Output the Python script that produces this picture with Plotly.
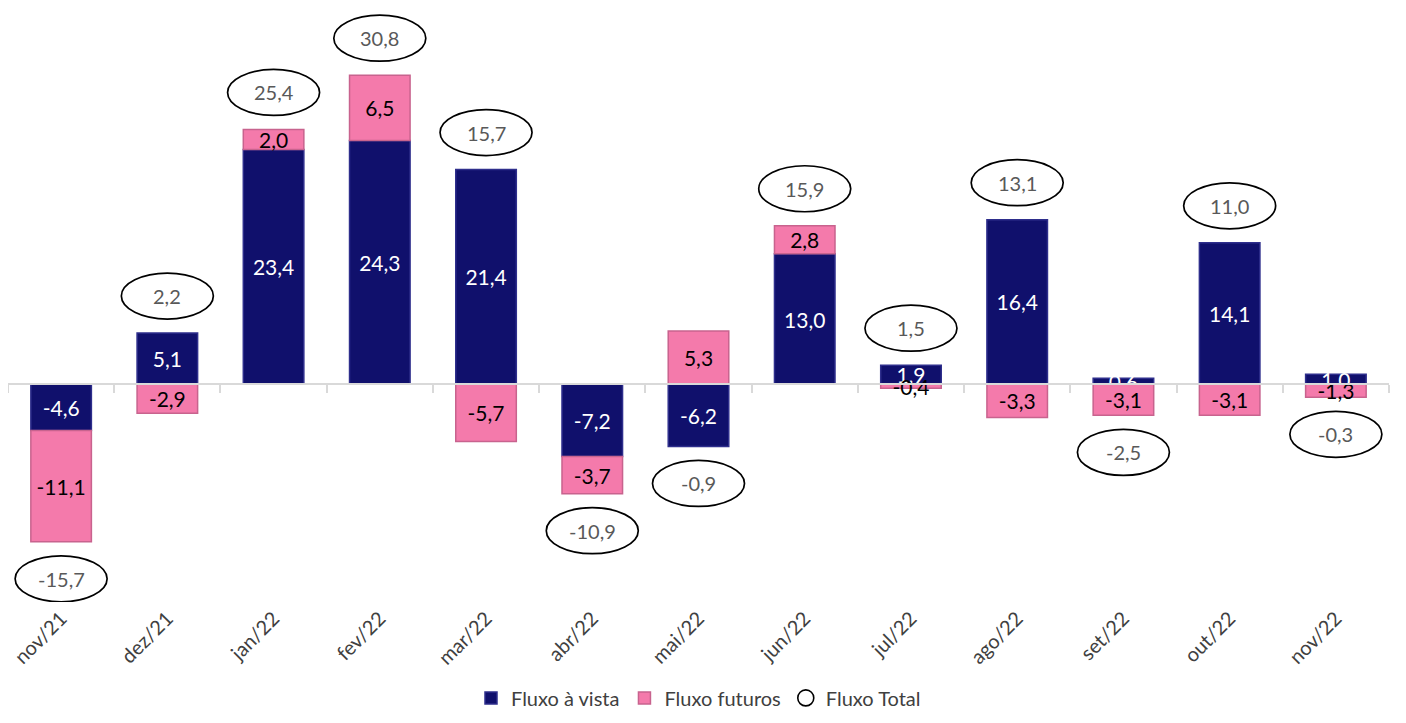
import plotly.graph_objects as go

months = ["nov/21", "dez/21", "jan/22", "fev/22", "mar/22", "abr/22", "mai/22",
          "jun/22", "jul/22", "ago/22", "set/22", "out/22", "nov/22"]
fluxo_vista = [-4.6, 5.1, 23.4, 24.3, 21.4, -7.2, -6.2, 13.0, 1.9, 16.4, 0.6, 14.1, 1.0]
fluxo_futuros = [-11.1, -2.9, 2.0, 6.5, -5.7, -3.7, 5.3, 2.8, -0.4, -3.3, -3.1, -3.1, -1.3]
fluxo_total = [-15.7, 2.2, 25.4, 30.8, 15.7, -10.9, -0.9, 15.9, 1.5, 13.1, -2.5, 11.0, -0.3]

NAVY = "#10106C"
PINK = "#F47AAB"
FONT = "Lato"

YMIN, YMAX = -21.7, 37.3

fig = go.Figure()
fig.add_trace(go.Bar(
    x=months, y=fluxo_vista, name="Fluxo à vista",
    marker=dict(color=NAVY, line=dict(color="#2E2E8C", width=1.5)),
    texttemplate="%{y:.1f}", textposition="inside", insidetextanchor="middle",
    textfont=dict(color="white", size=21, family=FONT), cliponaxis=False,
))
fig.add_trace(go.Bar(
    x=months, y=fluxo_futuros, name="Fluxo futuros",
    marker=dict(color=PINK, line=dict(color="#C8638E", width=1.5)),
    texttemplate="%{y:.1f}", textposition="inside", insidetextanchor="middle",
    textfont=dict(color="black", size=21, family=FONT), cliponaxis=False,
))
# legend-only entry for the total ellipses
fig.add_trace(go.Scatter(
    x=[None], y=[None], mode="markers", name="Fluxo Total",
    marker=dict(symbol="circle-open", size=24, color="black", line=dict(width=1.6)),
))
# dummy trace so the zero-line axis gets its categories
fig.add_trace(go.Scatter(
    x=months, y=[0] * len(months), mode="markers", marker=dict(opacity=0),
    xaxis="x2", yaxis="y", showlegend=False, hoverinfo="skip",
))

shapes = []
annotations = []
OFF = 37
for i, (v, f, t) in enumerate(zip(fluxo_vista, fluxo_futuros, fluxo_total)):
    pos = sum(a for a in (v, f) if a > 0)
    neg = sum(a for a in (v, f) if a < 0)
    if t >= 0:
        edge, off = pos, OFF
    else:
        edge, off = neg, -OFF
    shapes.append(dict(
        type="circle", xref="x", yref="y",
        xsizemode="pixel", ysizemode="pixel",
        xanchor=i, yanchor=edge,
        x0=-46, x1=46, y0=off - 23, y1=off + 23,
        line=dict(color="black", width=1.7), fillcolor="white", layer="above",
    ))
    annotations.append(dict(
        x=i, y=edge, xref="x", yref="y", yshift=off,
        text=f"{t:.1f}".replace(".", ","), showarrow=False,
        font=dict(color="#595959", size=20, family=FONT),
    ))

pos_frac = (0 - YMIN) / (YMAX - YMIN)

fig.update_layout(
    width=1390, height=707,
    barmode="relative", bargap=0.43,
    separators=",.",
    plot_bgcolor="white", paper_bgcolor="white",
    margin=dict(l=0, r=9, t=2, b=113, autoexpand=False),
    font=dict(family=FONT, size=20, color="#404040"),
    uniformtext=dict(minsize=21, mode="show"),
    xaxis=dict(
        type="category", categoryorder="array", categoryarray=months,
        tickangle=-45, showline=False, ticks="", showgrid=False, automargin=False,
        tickfont=dict(size=20, color="#404040", family=FONT),
        range=[-0.5, len(months) - 0.5],
    ),
    xaxis2=dict(
        type="category", categoryorder="array", categoryarray=months,
        overlaying="x", anchor="free", position=pos_frac, side="bottom",
        showline=True, linecolor="#D9D9D9", linewidth=2,
        ticks="outside", ticklen=8, tickcolor="#D9D9D9", tickwidth=2,
        tickson="boundaries", showticklabels=False, showgrid=False,
        range=[-0.5, len(months) - 0.5], automargin=False,
    ),
    yaxis=dict(range=[YMIN, YMAX], visible=False, showgrid=False, zeroline=False),
    legend=dict(
        orientation="h", x=0.5, xanchor="center", y=-0.162, yanchor="middle",
        font=dict(size=20, color="#404040", family=FONT),
        itemsizing="trace", traceorder="normal",
    ),
    shapes=shapes,
    annotations=annotations,
    showlegend=True,
)

fig.write_html("out.html")
